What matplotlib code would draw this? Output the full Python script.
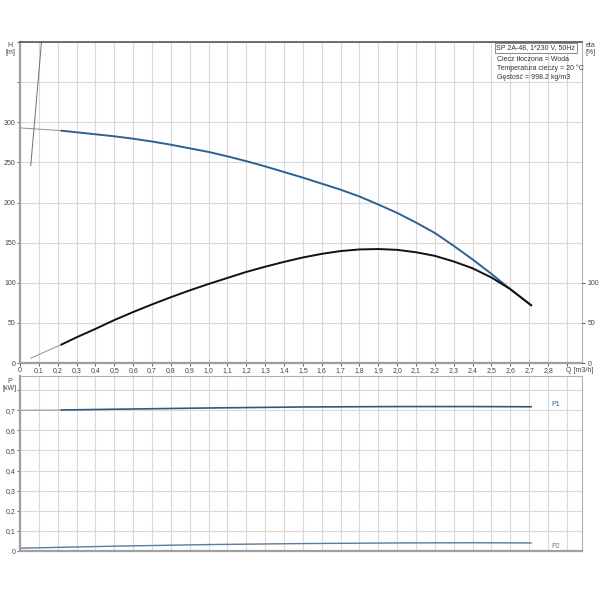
import matplotlib.pyplot as plt
import numpy as np

plt.rcParams['font.family'] = ['Liberation Sans', 'DejaVu Sans']

# pump curves (Q in m3/h)
q_main = [0.22, 0.3, 0.4, 0.5, 0.6, 0.7, 0.8, 0.9, 1.0, 1.1, 1.2, 1.3, 1.4, 1.5,
          1.6, 1.7, 1.8, 1.9, 2.0, 2.1, 2.2, 2.3, 2.4, 2.5, 2.6, 2.71]
head = [289.5, 287.5, 285, 282.5, 279.5, 276, 272, 267.5, 263, 257.5, 251.5, 245, 238, 231,
        223.5, 216, 207.5, 197.5, 187, 175, 162, 146, 129, 111, 92, 72]
eta = [23, 32, 42.5, 53.5, 63.5, 73, 82, 90.5, 98.5, 106, 113.5, 120, 126, 131.5,
       136, 139.5, 141.5, 142, 141, 138, 133.5, 126.5, 118, 106.5, 92, 72]

q_head_ext = [0, 0.22]
head_ext = [293, 289.5]
q_eta_ext = [0.057, 0.22]
eta_ext = [6, 23]
q_steep = [0.057, 0.125]
h_steep = [246, 430]

q_p1 = [0.22, 0.6, 1.0, 1.5, 2.0, 2.4, 2.71]
p1 = [0.701, 0.706, 0.711, 0.716, 0.718, 0.718, 0.717]
q_p1_ext = [0, 0.22]
p1_ext = [0.700, 0.701]
q_p2 = [0, 0.5, 1.0, 1.5, 2.0, 2.4, 2.71]
p2 = [0.014, 0.024, 0.032, 0.037, 0.040, 0.041, 0.040]

x_ticks = [round(0.1 * i, 1) for i in range(30)]
x_labels = [('0' if v == 0 else f'{v:.1f}'.replace('.', ',')) for v in x_ticks]
x_labels[-1] = ''

FS = 5
GRID = '#d9d9d9'
SPINE = '#a0a0a0'
BLUE = '#2d6293'
TXT = '#444444'
XMAX = 2.98

fig = plt.figure(figsize=(6, 6), dpi=100)
ax = fig.add_axes([20 / 600, 1 - 363 / 600, 562 / 600, 321 / 600])
axp = fig.add_axes([20 / 600, 1 - 551 / 600, 562 / 600, 175 / 600])

def style(a):
    a.set_xlim(0, XMAX)
    a.set_xticks(x_ticks)
    a.grid(True, color=GRID, linewidth=0.8)
    a.set_axisbelow(True)
    for s in ['left', 'bottom']:
        a.spines[s].set_color(SPINE)
        a.spines[s].set_linewidth(1.6)
    for s in ['right', 'top']:
        a.spines[s].set_color('#b0b0b0')
        a.spines[s].set_linewidth(0.8)
    a.tick_params(labelsize=FS, length=2, width=0.6, colors=TXT, pad=1)

# top: head and efficiency
style(ax)
ax.set_ylim(0, 400)
ax.set_yticks(range(0, 401, 50))
ax.set_yticklabels([str(v) if v <= 300 else '' for v in range(0, 401, 50)])
ax.set_xticklabels(x_labels)
ax.spines['top'].set_color('#555555')
ax.spines['top'].set_linewidth(1.2)

ax.plot(q_head_ext, head_ext, color='#909090', linewidth=0.7)
ax.plot(q_steep, h_steep, color='#707070', linewidth=0.7)
ax.plot(q_eta_ext, eta_ext, color='#909090', linewidth=0.7)
ax.plot(q_main, head, color=BLUE, linewidth=1.4)
ax.plot(q_main, eta, color='#111111', linewidth=1.4)

ax2 = ax.twinx()
ax2.set_ylim(0, 400)
ax2.set_yticks([0, 50, 100])
ax2.tick_params(labelsize=FS, length=2, width=0.6, colors=TXT, pad=2)
for s in ax2.spines.values():
    s.set_visible(False)

fig.text(10 / 600, 1 - 42 / 600, 'H\n[m]', fontsize=FS, color=TXT,
         ha='center', va='top', linespacing=1.1)
fig.text(586 / 600, 1 - 42 / 600, 'eta\n[%]', fontsize=FS, color=TXT,
         ha='left', va='top', linespacing=1.1)
fig.text(566 / 600, 1 - 370 / 600, 'Q [m3/h]', fontsize=FS, color=TXT,
         ha='left', va='center')

ax.text(0.988, 0.993, 'SP 2A-48, 1*230 V, 50Hz', transform=ax.transAxes, fontsize=FS,
        ha='right', va='top', color='#333333',
        bbox=dict(boxstyle='square,pad=0.25', fc='white', ec='#777777', lw=0.6))
ax.text(0.849, 0.957, 'Ciecz tłoczona = Woda\nTemperatura cieczy = 20 °C\nGęstość = 998.2 kg/m3',
        transform=ax.transAxes, fontsize=FS, ha='left', va='top', color='#333333',
        linespacing=1.3)

# bottom: power
style(axp)
axp.set_ylim(0, 0.87)
axp.set_yticks([0, 0.1, 0.2, 0.3, 0.4, 0.5, 0.6, 0.7, 0.8])
axp.set_yticklabels(['0', '0,1', '0,2', '0,3', '0,4', '0,5', '0,6', '0,7', ''])
axp.set_xticklabels([])
axp.tick_params(axis='x', length=0)

axp.plot(q_p1_ext, p1_ext, color='#909090', linewidth=0.7)
axp.plot(q_p1, p1, color='#2b5a88', linewidth=1.2)
axp.plot(q_p2, p2, color='#5b7a9c', linewidth=1.0)
axp.text(2.82, p1[-1] + 0.01, 'P1', fontsize=FS, color='#2b5a88', ha='left', va='center')
axp.text(2.82, p2[-1] - 0.02, 'P2', fontsize=FS, color='#5b7a9c', ha='left', va='center')
fig.text(10 / 600, 1 - 378 / 600, 'P\n[kW]', fontsize=FS, color=TXT, ha='center', va='top',
         linespacing=1.1)

fig.savefig('out.png', dpi=100)
